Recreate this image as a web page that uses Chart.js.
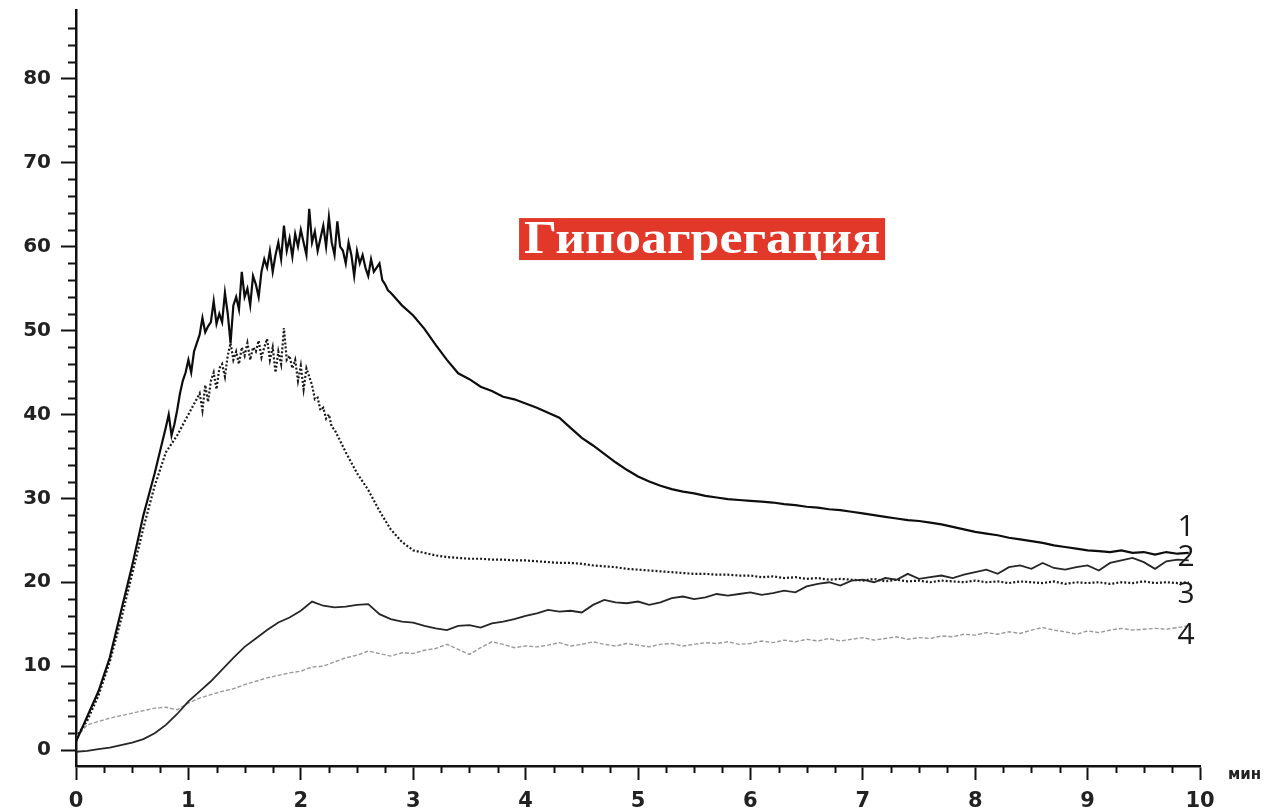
<!DOCTYPE html>
<html>
<head>
<meta charset="utf-8">
<script src="https://cdn.jsdelivr.net/npm/chart.js@4/dist/chart.umd.min.js"></script>
<style>
  html, body { margin: 0; padding: 0; background: #fff; }
</style>
</head>
<body>
<canvas id="aggChart" width="1276" height="811"></canvas>
<script>
// shared time grid, min
var time = [0,0.1,0.2,0.3,0.4,0.5,0.6,0.7,0.8,0.9,
            1,1.1,1.2,1.3,1.4,1.5,1.6,1.7,1.8,1.9,
            2,2.1,2.2,2.3,2.4,2.5,2.6,2.7,2.8,2.9,
            3,3.1,3.2,3.3,3.4,3.5,3.6,3.7,3.8,3.9,
            4,4.1,4.2,4.3,4.4,4.5,4.6,4.7,4.8,4.9,
            5,5.1,5.2,5.3,5.4,5.5,5.6,5.7,5.8,5.9,
            6,6.1,6.2,6.3,6.4,6.5,6.6,6.7,6.8,6.9,
            7,7.1,7.2,7.3,7.4,7.5,7.6,7.7,7.8,7.9,
            8,8.1,8.2,8.3,8.4,8.5,8.6,8.7,8.8,8.9,
            9,9.1,9.2,9.3,9.4,9.5,9.6,9.7,9.8,9.9];

// curve 1 has a denser time grid round the noisy peak
var time1 = [0,0.1,0.2,0.3,0.4,0.5,0.6,0.7,
             0.8,0.825,0.85,0.875,0.9,0.925,0.95,0.975,
             1,1.025,1.05,1.075,1.1,1.125,1.15,1.175,
             1.2,1.225,1.25,1.275,1.3,1.325,1.35,1.375,
             1.4,1.425,1.45,1.475,1.5,1.525,1.55,1.575,
             1.6,1.625,1.65,1.675,1.7,1.725,1.75,1.775,
             1.8,1.825,1.85,1.875,1.9,1.925,1.95,1.975,
             2,2.025,2.05,2.075,2.1,2.125,2.15,2.175,
             2.2,2.225,2.25,2.275,2.3,2.325,2.35,2.375,
             2.4,2.425,2.45,2.475,2.5,2.525,2.55,2.575,
             2.6,2.625,2.65,2.675,2.7,2.725,2.75,2.775,
             2.8,2.9,
             3,3.1,3.2,3.3,3.4,3.5,3.6,3.7,3.8,3.9,
             4,4.1,4.2,4.3,4.4,4.5,4.6,4.7,4.8,4.9,
             5,5.1,5.2,5.3,5.4,5.5,5.6,5.7,5.8,5.9,
             6,6.1,6.2,6.3,6.4,6.5,6.6,6.7,6.8,6.9,
             7,7.1,7.2,7.3,7.4,7.5,7.6,7.7,7.8,7.9,
             8,8.1,8.2,8.3,8.4,8.5,8.6,8.7,8.8,8.9,
             9,9.1,9.2,9.3,9.4,9.5,9.6,9.7,9.8,9.9];
var curve1 = [1.0,4.0,7.0,11.0,16.5,22.0,28.0,33.0,
              38.5,40.0,37.5,38.8,40.5,42.5,44.0,45.0,
              46.5,45.0,47.5,48.5,49.5,51.5,49.8,50.5,
              51.0,53.5,50.8,52.0,51.0,54.5,52.0,48.5,
              53.0,54.0,52.5,57.0,54.0,55.0,53.0,56.5,
              55.5,54.0,57.0,58.5,57.5,59.5,57.0,59.0,
              60.5,58.5,62.5,59.5,61.0,58.8,61.5,60.0,
              62.0,60.5,59.0,64.5,60.5,61.8,59.5,61.0,
              62.5,60.0,63.5,60.5,59.0,63.0,60.0,59.5,
              58.0,60.5,59.0,56.5,59.5,58.0,59.0,57.5,
              56.5,58.5,57.0,57.5,58.0,56.0,55.5,54.8,
              54.5,53.0,
              51.8,50.2,48.3,46.5,44.9,44.2,43.3,42.8,42.1,41.8,
              41.3,40.8,40.2,39.6,38.4,37.2,36.3,35.3,34.3,33.4,
              32.6,32.0,31.5,31.1,30.8,30.6,30.3,30.1,29.9,29.8,
              29.7,29.6,29.5,29.3,29.2,29.0,28.9,28.7,28.6,28.4,
              28.2,28.0,27.8,27.6,27.4,27.3,27.1,26.9,26.6,26.3,
              26.0,25.8,25.6,25.3,25.1,24.9,24.7,24.4,24.2,24.0,
              23.8,23.7,23.6,23.8,23.5,23.6,23.3,23.6,23.4,23.5];

// curve 2 - solid thin, low start (on the shared grid)
var curve2 = [-0.2,-0.1,0.1,0.3,0.6,0.9,1.3,2.0,3.0,4.3,
              5.8,7.0,8.2,9.6,11.0,12.3,13.3,14.3,15.2,15.8,
              16.6,17.7,17.2,17.0,17.1,17.3,17.4,16.2,15.6,15.3,
              15.2,14.8,14.5,14.3,14.8,14.9,14.6,15.1,15.3,15.6,
              16.0,16.3,16.7,16.5,16.6,16.4,17.3,17.9,17.6,17.5,
              17.7,17.3,17.6,18.1,18.3,18.0,18.2,18.6,18.4,18.6,
              18.8,18.5,18.7,19.0,18.8,19.5,19.8,20.0,19.6,20.2,
              20.3,20.0,20.5,20.3,21.0,20.4,20.6,20.8,20.5,20.9,
              21.2,21.5,21.0,21.8,22.0,21.6,22.3,21.7,21.5,21.8,
              22.0,21.4,22.3,22.6,22.9,22.4,21.6,22.5,22.7,22.6];

// curve 3 - dotted, peak ~48, denser grid round the peak
var time3 = [0,0.1,0.2,0.3,0.4,0.5,0.6,0.7,0.8,0.9,1,
             1.1,1.125,1.15,1.175,1.2,1.225,1.25,1.275,
             1.3,1.325,1.35,1.375,1.4,1.425,1.45,1.475,
             1.5,1.525,1.55,1.575,1.6,1.625,1.65,1.675,
             1.7,1.725,1.75,1.775,1.8,1.825,1.85,1.875,
             1.9,1.925,1.95,1.975,2,2.025,2.05,2.075,
             2.1,2.125,2.15,2.175,2.2,2.225,2.25,2.275,2.3,
             2.4,2.5,2.6,2.7,2.8,2.9,
             3,3.1,3.2,3.3,3.4,3.5,3.6,3.7,3.8,3.9,
             4,4.1,4.2,4.3,4.4,4.5,4.6,4.7,4.8,4.9,
             5,5.1,5.2,5.3,5.4,5.5,5.6,5.7,5.8,5.9,
             6,6.1,6.2,6.3,6.4,6.5,6.6,6.7,6.8,6.9,
             7,7.1,7.2,7.3,7.4,7.5,7.6,7.7,7.8,7.9,
             8,8.1,8.2,8.3,8.4,8.5,8.6,8.7,8.8,8.9,
             9,9.1,9.2,9.3,9.4,9.5,9.6,9.7,9.8,9.9];
var curve3 = [1.5,3.5,6.5,10.5,15.5,21.0,26.5,31.5,35.5,37.5,40.0,
              42.5,40.5,43.5,41.5,44.0,45.0,43.0,45.5,
              46.0,44.5,47.0,48.5,46.5,47.5,46.0,48.0,
              47.0,48.5,46.5,48.0,47.5,48.8,46.8,48.0,
              49.0,46.5,48.0,45.0,47.5,46.0,50.3,46.5,
              47.0,45.5,46.5,44.0,45.8,43.0,45.5,44.5,
              43.5,41.8,42.0,40.5,40.8,39.5,40.0,38.5,38.2,
              35.5,33.0,31.0,28.5,26.3,24.8,
              23.8,23.5,23.2,23.0,22.9,22.8,22.8,22.7,22.7,22.6,
              22.6,22.5,22.4,22.3,22.3,22.2,22.0,21.9,21.8,21.6,
              21.5,21.4,21.3,21.2,21.1,21.0,21.0,20.9,20.9,20.8,
              20.8,20.6,20.7,20.5,20.6,20.4,20.5,20.3,20.4,20.3,
              20.2,20.4,20.1,20.3,20.1,20.2,20.0,20.2,20.1,20.0,
              20.2,20.0,20.1,19.9,20.1,20.0,19.9,20.1,19.8,20.0,
              19.9,20.0,19.8,20.0,19.9,20.1,19.9,20.0,19.9,20.0];

// curve 4 - light grey (on the shared grid)
var curve4 = [1.5,3.0,3.4,3.8,4.1,4.4,4.7,5.0,5.1,4.8,
              5.6,6.2,6.6,7.0,7.3,7.8,8.2,8.6,8.9,9.2,
              9.4,9.9,10.0,10.5,11.0,11.3,11.8,11.5,11.2,11.6,
              11.5,11.9,12.1,12.6,12.0,11.4,12.2,12.9,12.6,12.2,
              12.4,12.3,12.5,12.8,12.4,12.6,12.9,12.6,12.4,12.7,
              12.5,12.3,12.6,12.7,12.4,12.6,12.8,12.7,12.9,12.6,
              12.7,13.0,12.8,13.1,12.9,13.2,13.0,13.3,13.0,13.2,
              13.4,13.1,13.3,13.5,13.2,13.4,13.3,13.6,13.5,13.8,
              13.7,14.0,13.8,14.1,13.9,14.3,14.6,14.3,14.1,13.8,
              14.2,14.0,14.3,14.5,14.3,14.4,14.5,14.4,14.6,14.8];

var xMajor = [0,1,2,3,4,5,6,7,8,9,10];
var xMinor = [0.25,0.5,0.75,1.25,1.5,1.75,2.25,2.5,2.75,3.25,3.5,3.75,4.25,4.5,4.75,
              5.25,5.5,5.75,6.25,6.5,6.75,7.25,7.5,7.75,8.25,8.5,8.75,9.25,9.5,9.75];
var yMajor = [0,10,20,30,40,50,60,70,80];
var yMinor = [2,4,6,8,12,14,16,18,22,24,26,28,32,34,36,38,42,44,46,48,
              52,54,56,58,62,64,66,68,72,74,76,78,82,84,86];

var curveNames = ['1','2','3','4'];
var curveLabelAt = [26.5, 22.9, 18.6, 13.7];
var titleText = 'Гипоагрегация';
var unitText = 'мин';

function pts(xs, ys) {
  return xs.map(function(t, i) { return { x: t, y: ys[i] }; });
}

var extras = {
  id: 'extras',
  afterDraw: function(chart) {
    var ctx = chart.ctx, xs = chart.scales.x, ys = chart.scales.y, area = chart.chartArea;
    ctx.save();
    // minor ticks
    ctx.strokeStyle = '#111';
    ctx.lineWidth = 2;
    yMinor.forEach(function(v) {
      var py = Math.round(ys.getPixelForValue(v)) + 0.5;
      ctx.beginPath(); ctx.moveTo(area.left - 8, py); ctx.lineTo(area.left, py); ctx.stroke();
    });
    xMinor.forEach(function(v) {
      var px = Math.round(xs.getPixelForValue(v)) + 0.5;
      ctx.beginPath(); ctx.moveTo(px, area.bottom); ctx.lineTo(px, area.bottom + 7); ctx.stroke();
    });

    // unit label
    ctx.fillStyle = '#222';
    ctx.font = 'bold 15px "DejaVu Sans"';
    ctx.textAlign = 'left';
    ctx.textBaseline = 'middle';
    ctx.fillText(unitText, xs.getPixelForValue(10) + 28, area.bottom + 9);

    // curve numbers
    ctx.font = '30px "Open Sans"';
    ctx.fillStyle = '#1a1a1a';
    curveNames.forEach(function(n, i) {
      ctx.fillText(n, xs.getPixelForValue(9.8), ys.getPixelForValue(curveLabelAt[i]));
    });

    // red title box
    var cx = xs.getPixelForValue(5.57), cy = ys.getPixelForValue(60.9);
    ctx.fillStyle = '#e2382a';
    ctx.fillRect(cx - 183, cy - 21, 366, 42);
    ctx.font = 'bold 46px "Liberation Serif"';
    var w = ctx.measureText(titleText).width;
    ctx.translate(cx, cy + 14);
    ctx.scale(356 / w, 1);
    ctx.fillStyle = '#fff';
    ctx.textAlign = 'center';
    ctx.textBaseline = 'alphabetic';
    ctx.fillText(titleText, 0, 0);
    ctx.restore();
  }
};

var ctx = document.getElementById('aggChart').getContext('2d');
var aggChart = new Chart(ctx, {
  type: 'line',
  data: {
    datasets: [
      { label: '1', data: pts(time1, curve1), borderColor: '#0d0d0d', borderWidth: 2.2, pointRadius: 0 },
      { label: '2', data: pts(time, curve2), borderColor: '#262626', borderWidth: 1.8, pointRadius: 0 },
      { label: '3', data: pts(time3, curve3), borderColor: '#1a1a1a', borderWidth: 2.2, borderDash: [2, 2], pointRadius: 0 },
      { label: '4', data: pts(time, curve4), borderColor: '#9a9a9a', borderWidth: 1.4, borderDash: [4, 2], pointRadius: 0 }
    ]
  },
  options: {
    responsive: false,
    animation: false,
    layout: { padding: { top: 10, right: 76, left: 0, bottom: 0 } },
    plugins: { legend: { display: false }, tooltip: { enabled: false } },
    scales: {
      x: {
        type: 'linear',
        min: 0, max: 10,
        afterBuildTicks: function(scale) { scale.ticks = xMajor.map(function(v) { return { value: v }; }); },
        afterFit: function(scale) { scale.height = 45; scale.paddingLeft = 0; scale.paddingRight = 0; },
        border: { display: true, color: '#111', width: 2.5 },
        grid: { drawOnChartArea: false, drawTicks: true, tickLength: 14, tickColor: '#111', tickWidth: 2 },
        ticks: { color: '#222', padding: 9, autoSkip: false, maxRotation: 0,
                 font: { family: 'DejaVu Sans', weight: 'bold', size: 21 } }
      },
      y: {
        min: -1.9, max: 88.2,
        afterBuildTicks: function(scale) { scale.ticks = yMajor.map(function(v) { return { value: v }; }); },
        afterFit: function(scale) { scale.width = 76; scale.paddingTop = 0; scale.paddingBottom = 0; },
        border: { display: true, color: '#111', width: 2.5 },
        grid: { drawOnChartArea: false, drawTicks: true, tickLength: 15, tickColor: '#111', tickWidth: 2 },
        ticks: { color: '#222', padding: 10,
                 font: { family: 'DejaVu Sans', weight: 'bold', size: 20 } }
      }
    }
  },
  plugins: [extras]
});
</script>
</body>
</html>
